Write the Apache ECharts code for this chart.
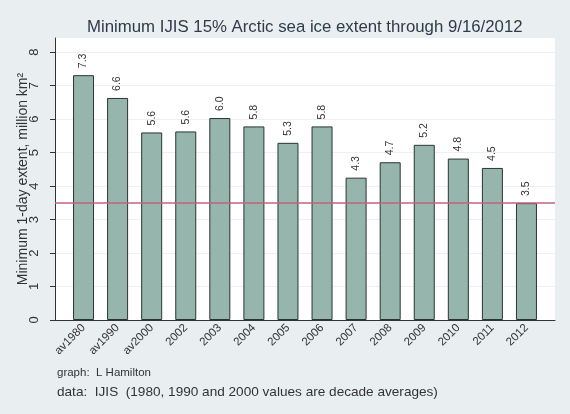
<!DOCTYPE html>
<html>
<head>
<meta charset="utf-8">
<script src="https://cdn.jsdelivr.net/npm/echarts@6/dist/echarts.min.js"></script>
<style>
html,body{margin:0;padding:0;background:#e9eef1;}
#main{width:570px;height:414px;}
</style>
</head>
<body>
<div id="main"></div>
<script>
// categories and values (million km2)
var years = ['av1980','av1990','av2000','2002','2003','2004','2005','2006','2007','2008','2009','2010','2011','2012'];
var extent = [7.31,6.63,5.6,5.63,6.03,5.78,5.29,5.78,4.25,4.71,5.23,4.82,4.54,3.49];
var yTicks = [0,1,2,3,4,5,6,7,8];
var yTop = 8.42;
var ref2012 = 3.49;

var chart = echarts.init(document.getElementById('main'));
var font = 'Liberation Sans, Arial, sans-serif';

var option = {
	backgroundColor: '#e9eef1',
	animation: false,
	textStyle: {fontFamily: font},
	title: [
		{
			text: 'Minimum IJIS 15% Arctic sea ice extent through 9/16/2012',
			left: 82, top: 14,
			textStyle: {fontSize: 16.8, fontWeight: 'normal', color: '#2d3b4a', fontFamily: font}
		},
		{
			text: 'graph:  L Hamilton',
			left: 52, top: 362,
			textStyle: {fontSize: 11.5, fontWeight: 'normal', color: '#333', fontFamily: font}
		},
		{
			text: 'data:  IJIS  (1980, 1990 and 2000 values are decade averages)',
			left: 52, top: 380,
			textStyle: {fontSize: 13.6, fontWeight: 'normal', color: '#333', fontFamily: font}
		}
	],
	grid: [
		{left: 55, right: 15, top: 38, bottom: 94, show: true, backgroundColor: '#fff', borderWidth: 0},
		{left: 66.5, right: 26.5, top: 38, bottom: 94}
	],
	xAxis: [
		{
			gridIndex: 0, type: 'value', min: 0, max: 1,
			axisLine: {show: true, lineStyle: {color: '#333', width: 1}},
			axisTick: {show: false}, axisLabel: {show: false}, splitLine: {show: false}
		},
		{
			gridIndex: 1, type: 'category', data: years,
			axisLine: {show: false}, axisTick: {show: false},
			axisLabel: {interval: 0, rotate: 45, fontSize: 11.5, color: '#333', margin: 6}
		}
	],
	yAxis: [
		{
			gridIndex: 0, type: 'value', min: 0, max: yTop,
			name: 'Minimum 1-day extent, million km\u00b2',
			nameLocation: 'middle', nameGap: 25, nameMoveOverlap: false,
			nameTextStyle: {fontSize: 14, color: '#333'},
			axisLine: {show: true, lineStyle: {color: '#333', width: 1}},
			axisTick: {show: true, length: 5, customValues: yTicks, lineStyle: {color: '#333'}},
			axisLabel: {customValues: yTicks, rotate: 90, fontSize: 13, color: '#333', margin: 14},
			splitLine: {show: true, lineStyle: {color: '#edf1f3', width: 1}}
		},
		{gridIndex: 1, type: 'value', min: 0, max: yTop, show: false}
	],
	series: [
		{
			type: 'line', xAxisIndex: 0, yAxisIndex: 0, data: [],
			markLine: {
				silent: true, symbol: 'none',
				label: {show: false},
				lineStyle: {color: '#c0657d', width: 1.5, type: 'solid'},
				data: [{yAxis: ref2012}]
			}
		},
		{
			type: 'bar', xAxisIndex: 1, yAxisIndex: 1, data: extent, barWidth: 21,
			itemStyle: {color: '#95b5ad', borderColor: '#2a3433', borderWidth: 1},
			label: {
				show: true, position: 'top', rotate: 90, align: 'left', verticalAlign: 'middle',
				distance: 7, fontSize: 10.5, color: '#333',
				formatter: function(p){ return p.value.toFixed(1); }
			}
		}
	]
};
chart.setOption(option);
</script>
</body>
</html>
